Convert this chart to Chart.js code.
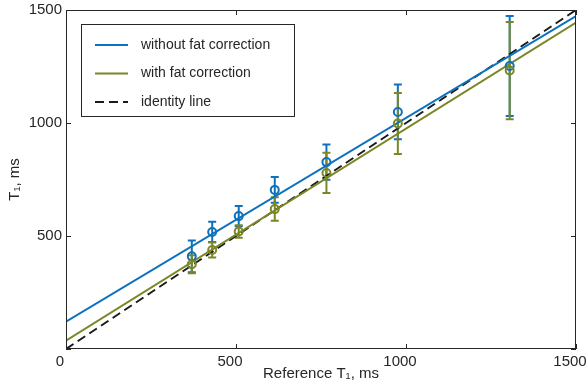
<!DOCTYPE html>
<html>
<head>
<meta charset="utf-8">
<script src="https://cdn.jsdelivr.net/npm/chart.js@4.4.1/dist/chart.umd.min.js"></script>
<style>
  html, body { margin: 0; padding: 0; background: #fff; }
  #wrap { width: 588px; height: 388px; position: relative; }
</style>
</head>
<body>
<div id="wrap"><canvas id="t1Chart"></canvas></div>
<script>
// phantom vials: reference T1 vs measured T1 (ms), mean +/- sd
const refT1 = [370, 430, 508, 614, 766, 976, 1305];
const t1NoFat = [410, 518, 588, 704, 827, 1049, 1252];
const sdNoFat = [70, 45, 45, 57, 78, 121, 221];
const t1Fat = [375, 438, 520, 619, 779, 998, 1232];
const sdFat = [40, 33, 28, 52, 89, 135, 215];

// linear fits and identity, evaluated at the axis ends
const lineX = [0, 1500];
const fitNoFat = [121, 1473];
const fitFat = [37, 1444];
const identity = [0, 1500];

const axisTicks = [0, 500, 1000, 1500];

const blue = '#0d72bb';
const olive = '#7b8726';
const ink = '#262626';

Chart.defaults.font.family = "'Liberation Sans', Arial, sans-serif";
Chart.defaults.color = ink;

function pts(xs, ys) {
    return xs.map((x, i) => ({ x: x, y: ys[i] }));
}

// vertical error bars with caps, drawn under the circles
const errorBars = {
    id: 'errorBars',
    beforeDatasetsDraw(chart) {
        const c = chart.ctx;
        const xs = chart.scales.x, ys = chart.scales.y;
        const sets = chart.data.datasets.filter(d => d.errors)
            .sort((a, b) => b.order - a.order);
        sets.forEach(ds => {
            c.save();
            c.strokeStyle = ds.borderColor;
            c.lineWidth = 2;
            ds.data.forEach((p, i) => {
                const px = xs.getPixelForValue(p.x);
                const top = ys.getPixelForValue(p.y + ds.errors[i]);
                const bot = ys.getPixelForValue(p.y - ds.errors[i]);
                c.beginPath();
                c.moveTo(px, top); c.lineTo(px, bot);
                c.moveTo(px - 4, top); c.lineTo(px + 4, top);
                c.moveTo(px - 4, bot); c.lineTo(px + 4, bot);
                c.stroke();
            });
            c.restore();
        });
    }
};

// box around the plot with inward tick marks on all four sides
const axesBox = {
    id: 'axesBox',
    afterDatasetsDraw(chart) {
        const c = chart.ctx;
        const a = chart.chartArea;
        const xs = chart.scales.x, ys = chart.scales.y;
        const tl = 5;
        c.save();
        c.strokeStyle = ink;
        c.lineWidth = 1;
        c.strokeRect(a.left + 0.5, a.top + 0.5, a.right - a.left - 1, a.bottom - a.top - 1);
        c.beginPath();
        axisTicks.forEach(v => {
            const px = Math.round(xs.getPixelForValue(v)) + 0.5;
            c.moveTo(px, a.bottom); c.lineTo(px, a.bottom - tl);
            c.moveTo(px, a.top); c.lineTo(px, a.top + tl);
            const py = Math.round(ys.getPixelForValue(v)) + 0.5;
            c.moveTo(a.left, py); c.lineTo(a.left + tl, py);
            c.moveTo(a.right, py); c.lineTo(a.right - tl, py);
        });
        c.stroke();
        c.restore();
    }
};

// legend box in the upper left corner of the plot
const boxLegend = {
    id: 'boxLegend',
    afterDraw(chart) {
        const c = chart.ctx;
        const a = chart.chartArea;
        const x0 = a.left + 15, y0 = a.top + 14;
        const w = 213, h = 92;
        c.save();
        c.fillStyle = '#fff';
        c.fillRect(x0, y0, w, h);
        c.strokeStyle = ink;
        c.lineWidth = 1;
        c.strokeRect(x0 + 0.5, y0 + 0.5, w, h);
        const items = chart.data.datasets.filter(d => d.label);
        items.forEach((d, i) => {
            const y = y0 + 21 + i * 28.5;
            c.beginPath();
            c.strokeStyle = d.borderColor;
            c.lineWidth = 2;
            c.setLineDash(d.borderDash || []);
            c.moveTo(x0 + 14, y); c.lineTo(x0 + 47, y);
            c.stroke();
            c.setLineDash([]);
            c.fillStyle = ink;
            c.font = "14px 'Liberation Sans', Arial, sans-serif";
            c.textBaseline = 'middle';
            c.fillText(d.label, x0 + 60, y);
        });
        c.restore();
    }
};

const ctx = document.getElementById('t1Chart').getContext('2d');
const t1Chart = new Chart(ctx, {
    type: 'scatter',
    data: {
        datasets: [{
            data: pts(refT1, t1Fat),
            errors: sdFat,
            borderColor: olive,
            backgroundColor: 'rgba(0,0,0,0)',
            pointRadius: 4,
            pointBorderWidth: 2,
            order: 1
        }, {
            data: pts(refT1, t1NoFat),
            errors: sdNoFat,
            borderColor: blue,
            backgroundColor: 'rgba(0,0,0,0)',
            pointRadius: 4,
            pointBorderWidth: 2,
            order: 2
        }, {
            label: 'without fat correction',
            data: pts(lineX, fitNoFat),
            showLine: true,
            borderColor: blue,
            borderWidth: 2,
            pointRadius: 0,
            order: 4
        }, {
            label: 'with fat correction',
            data: pts(lineX, fitFat),
            showLine: true,
            borderColor: olive,
            borderWidth: 2,
            pointRadius: 0,
            order: 3
        }, {
            label: 'identity line',
            data: pts(lineX, identity),
            showLine: true,
            borderColor: '#1a1a1a',
            borderWidth: 2,
            borderDash: [9, 5],
            pointRadius: 0,
            order: 5
        }]
    },
    options: {
        responsive: true,
        maintainAspectRatio: false,
        animation: false,
        layout: { padding: { top: 10, right: 12, left: 0, bottom: 0 } },
        plugins: {
            legend: { display: false },
            tooltip: { enabled: false }
        },
        scales: {
            x: {
                type: 'linear',
                min: 0,
                max: 1500,
                border: { display: false },
                grid: { display: false, drawTicks: false },
                ticks: {
                    stepSize: 500,
                    padding: 4,
                    labelOffset: -6,
                    font: { size: 15 },
                    callback: v => String(v)
                },
                title: {
                    display: true,
                    text: 'Reference T\u2081, ms',
                    font: { size: 15 },
                    padding: { top: 0, bottom: 5 }
                },
                afterFit(scale) {
                    scale.height = 39;
                    scale.paddingLeft = 0;
                    scale.paddingRight = 0;
                }
            },
            y: {
                type: 'linear',
                min: 0,
                max: 1500,
                border: { display: false },
                grid: { display: false, drawTicks: false },
                ticks: {
                    stepSize: 500,
                    padding: 4,
                    font: { size: 15 },
                    callback: v => (v === 0 ? '' : String(v))
                },
                title: {
                    display: true,
                    text: 'T\u2081, ms',
                    font: { size: 15 },
                    padding: { top: 6, bottom: 0 }
                },
                afterFit(scale) {
                    scale.width = 66;
                    scale.paddingTop = 0;
                    scale.paddingBottom = 0;
                }
            }
        }
    },
    plugins: [errorBars, axesBox, boxLegend]
});
</script>
</body>
</html>
